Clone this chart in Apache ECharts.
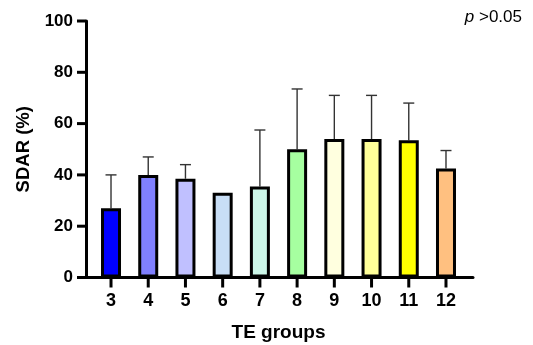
<!DOCTYPE html>
<html>
<head>
<meta charset="utf-8">
<script src="https://cdn.jsdelivr.net/npm/echarts@6/dist/echarts.min.js"></script>
<style>
  html, body { margin: 0; padding: 0; background: #fff; }
  #chart { width: 533px; height: 345px; }
</style>
</head>
<body>
<div id="chart"></div>
<script>
// TE groups on the x axis
const groups = ["3", "4", "5", "6", "7", "8", "9", "10", "11", "12"];
// mean SDAR (%) per group
const means = [27, 40, 38.5, 33, 35.5, 50, 54, 54, 53.5, 42.5];
// SD (only the upper whisker is drawn)
const sds = [13, 7, 5.5, 0, 22, 23.5, 17, 17, 14.5, 7];
const yTicks = [0, 20, 40, 60, 80, 100];
const barColors = ["#0000ff", "#8080ff", "#c0c0ff", "#c8def6", "#ccf7e8", "#a6ffa0", "#ffffdf", "#ffff99", "#ffff00", "#ffc080"];

const chart = echarts.init(document.getElementById("chart"));
const font = "Liberation Sans, Arial, sans-serif";
const axisLineStyle = { color: "#000", width: 3 };
const tickLen = 9;

// ticks drawn from the axis scale (outside the plot area, so no clipping)
function yTickItem(params, api) {
  const p = api.coord([0, api.value(1)]);
  return {
    type: "line",
    shape: { x1: p[0] - tickLen, y1: p[1], x2: p[0], y2: p[1] },
    style: { stroke: "#000", lineWidth: 3 },
  };
}
function xTickItem(params, api) {
  const p = api.coord([api.value(0), 0]);
  return {
    type: "line",
    shape: { x1: p[0], y1: p[1], x2: p[0], y2: p[1] + tickLen + 1 },
    style: { stroke: "#000", lineWidth: 3 },
  };
}

const option = {
  animation: false,
  title: {
    text: "{i|p} >0.05",
    right: 11,
    top: 9,
    padding: 0,
    textStyle: {
      fontFamily: font,
      fontSize: 17,
      fontWeight: "normal",
      color: "#000",
      rich: { i: { fontFamily: font, fontSize: 17, fontStyle: "italic", color: "#000" } },
    },
  },
  // grid 0 draws the axis frame, grid 1 holds the bars (inset a little like GraphPad)
  grid: [
    { left: 86, right: 60, top: 21, bottom: 67.5, outerBoundsMode: "none" },
    { left: 92.4, right: 68.4, top: 21, bottom: 67.5, outerBoundsMode: "none" },
  ],
  xAxis: [
    {
      gridIndex: 0,
      type: "value",
      min: 0,
      max: 1,
      splitLine: { show: false },
      axisLine: { show: true, onZero: false, lineStyle: axisLineStyle },
      axisTick: { show: false },
      axisLabel: { show: false },
    },
    {
      gridIndex: 1,
      type: "category",
      data: groups,
      name: "TE groups",
      nameLocation: "middle",
      nameGap: 46,
      nameTextStyle: { fontFamily: font, fontSize: 19, fontWeight: "bold", color: "#000" },
      axisLine: { show: false },
      axisTick: { show: false },
      axisLabel: { margin: 15, fontFamily: font, fontSize: 18, fontWeight: "bold", color: "#000" },
    },
  ],
  yAxis: [
    {
      gridIndex: 0,
      type: "value",
      min: 0,
      max: 100,
      interval: 20,
      name: "SDAR (%)",
      nameLocation: "middle",
      nameGap: 52,
      nameTextStyle: { fontFamily: font, fontSize: 18.5, fontWeight: "bold", color: "#000" },
      splitLine: { show: false },
      axisLine: { show: true, lineStyle: axisLineStyle },
      axisTick: { show: false },
      axisLabel: { margin: 13, fontFamily: font, fontSize: 17, fontWeight: "bold", color: "#000" },
    },
    { gridIndex: 1, type: "value", min: 0, max: 100, show: false },
  ],
  series: [
    {
      type: "custom",
      silent: true,
      clip: false,
      z: 10,
      xAxisIndex: 0,
      yAxisIndex: 0,
      data: yTicks.map((v) => [0, v]),
      renderItem: yTickItem,
    },
    {
      type: "custom",
      silent: true,
      clip: false,
      z: 10,
      xAxisIndex: 1,
      yAxisIndex: 1,
      data: groups.map((g, i) => [i, 0]),
      renderItem: xTickItem,
    },
    {
      // upper SD whiskers, drawn under the bars
      type: "custom",
      clip: false,
      xAxisIndex: 1,
      yAxisIndex: 1,
      z: 1,
      data: groups.map((g, i) => [i, means[i], means[i] + sds[i]]),
      renderItem: (params, api) => {
        if (api.value(2) <= api.value(1)) return null;
        const base = api.coord([api.value(0), api.value(1)]);
        const top = api.coord([api.value(0), api.value(2)]);
        const half = 5.5;
        const style = { stroke: "#333", lineWidth: 1.4 };
        return {
          type: "group",
          children: [
            { type: "line", shape: { x1: base[0], y1: base[1], x2: top[0], y2: top[1] }, style },
            { type: "line", shape: { x1: top[0] - half, y1: top[1], x2: top[0] + half, y2: top[1] }, style },
          ],
        };
      },
    },
    {
      type: "bar",
      xAxisIndex: 1,
      yAxisIndex: 1,
      z: 2,
      barWidth: 20,
      data: means.map((m, i) => ({ value: m, itemStyle: { color: barColors[i] } })),
      itemStyle: { borderColor: "#000", borderWidth: 3 },
    },
  ],
};
chart.setOption(option);
</script>
</body>
</html>
